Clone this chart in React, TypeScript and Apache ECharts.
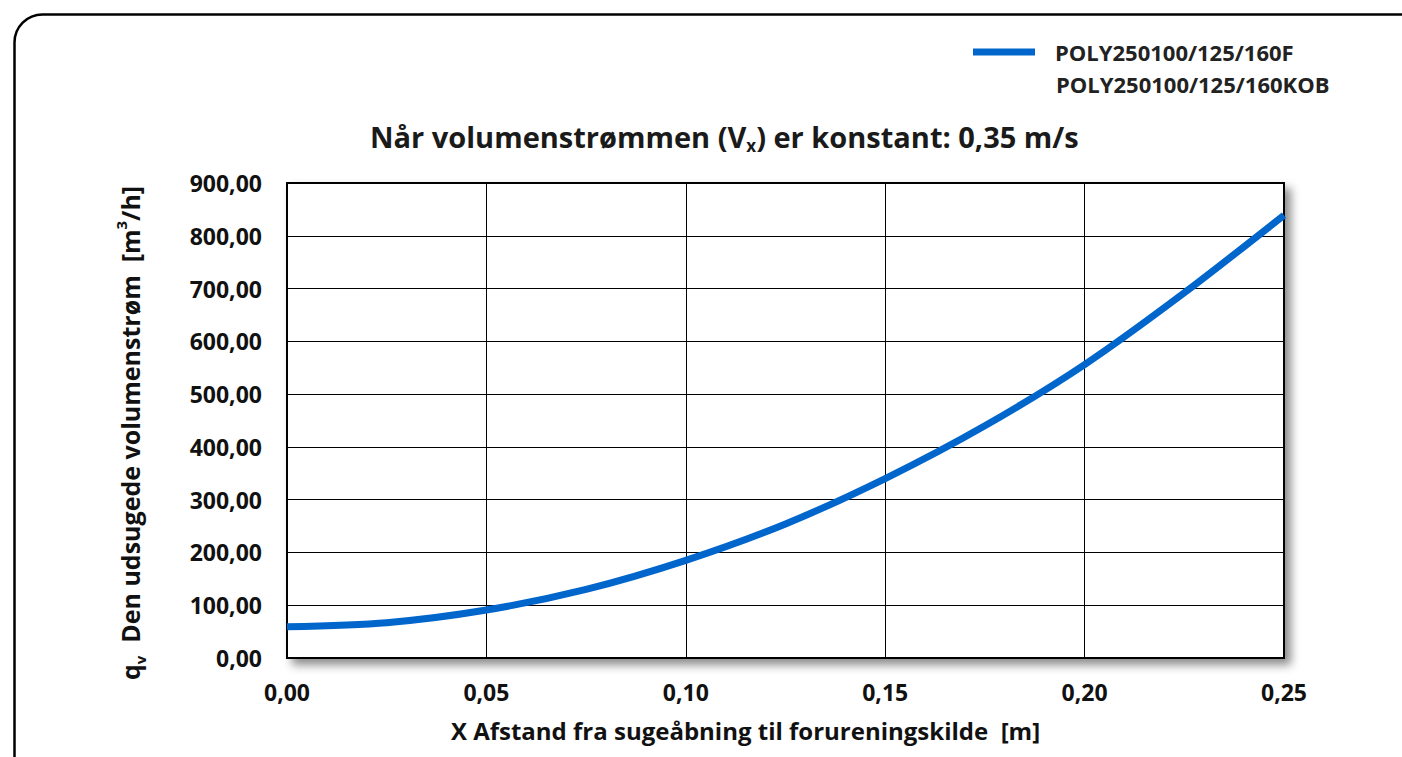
import React, { useEffect, useRef } from "react";
import * as echarts from "echarts";

const xValues = [0, 0.025, 0.05, 0.075, 0.1, 0.125, 0.15, 0.175, 0.2, 0.225, 0.25];
const qValues = [59, 67, 91, 130, 185, 254, 340, 440, 556, 692, 839];
const seriesName1 = "POLY250100/125/160F";
const seriesName2 = "POLY250100/125/160KOB";
const xTicks = { min: 0, max: 0.25, interval: 0.05 };
const yTicks = { min: 0, max: 900, interval: 100 };

const FONT = "Open Sans";
const fmt = (v: number) => v.toFixed(2).replace(".", ",");

export default function App() {
  const ref = useRef<HTMLDivElement>(null);
  useEffect(() => {
    if (!ref.current) return;
    const chart = echarts.init(ref.current, null, { renderer: "svg" });
    chart.setOption({
      animation: false,
      textStyle: { fontFamily: FONT },
      title: {
        left: 365,
        top: 113,
        text: "{a|Når volumenstrømmen (V}{sub|x}{a|) er konstant: 0,35 m/s}",
        textStyle: {
          rich: {
            a: { fontFamily: FONT, fontWeight: "bold", fontSize: 29, color: "#1a1a1a", lineHeight: 36 },
            sub: { fontFamily: FONT, fontWeight: "bold", fontSize: 17, color: "#1a1a1a", verticalAlign: "bottom", lineHeight: 22 },
          },
        },
      },
      legend: {
        left: 968,
        top: 36,
        icon: "rect",
        itemWidth: 62,
        itemHeight: 7,
        data: [seriesName1],
        textStyle: { fontFamily: FONT, fontWeight: "bold", fontSize: 22, color: "#222", padding: [0, 0, 0, 15] },
      },
      graphic: [
        {
          type: "rect",
          left: 12,
          top: 12,
          shape: { width: 1420, height: 780, r: 28 },
          style: { fill: "none", stroke: "#000", lineWidth: 2.5 },
          z: -10,
        },
        {
          type: "text",
          left: 1056,
          top: 73,
          style: { text: seriesName2, fontFamily: FONT, fontWeight: "bold", fontSize: 22, fill: "#222" },
        },
      ],
      grid: {
        left: 287,
        right: 118,
        top: 183,
        bottom: 99,
        show: true,
        backgroundColor: "#fff",
        borderColor: "#000",
        borderWidth: 2,
        shadowBlur: 10,
        shadowOffsetX: 6,
        shadowOffsetY: 6,
        shadowColor: "rgba(0,0,0,0.45)",
      },
      xAxis: {
        type: "value",
        min: xTicks.min,
        max: xTicks.max,
        interval: xTicks.interval,
        axisLine: { show: false },
        axisTick: { show: false },
        splitLine: { show: true, lineStyle: { color: "#000", width: 1 } },
        axisLabel: { formatter: fmt, margin: 22, fontFamily: FONT, fontWeight: "bold", fontSize: 23, color: "#111" },
        name: "X Afstand fra sugeåbning til forureningskilde  [m]",
        nameLocation: "middle",
        nameGap: 60,
        nameTextStyle: { fontFamily: FONT, fontWeight: "bold", fontSize: 24, color: "#111", padding: [0, 80, 0, 0] },
      },
      yAxis: {
        type: "value",
        min: yTicks.min,
        max: yTicks.max,
        interval: yTicks.interval,
        axisLine: { show: false },
        axisTick: { show: false },
        splitLine: { show: true, lineStyle: { color: "#000", width: 1 } },
        axisLabel: { formatter: fmt, margin: 25, fontFamily: FONT, fontWeight: "bold", fontSize: 23, color: "#111" },
        name: "{a|q}{sub|v}{a|  Den udsugede volumenstrøm  [m}{sup|3}{a|/h]}",
        nameLocation: "middle",
        nameRotate: 90,
        nameGap: 140,
        nameTextStyle: {
          padding: [0, 25, 0, 0],
          rich: {
            a: { fontFamily: FONT, fontWeight: "bold", fontSize: 25, color: "#111", lineHeight: 30 },
            sub: { fontFamily: FONT, fontWeight: "bold", fontSize: 15, color: "#111", verticalAlign: "bottom", lineHeight: 22 },
            sup: { fontFamily: FONT, fontWeight: "bold", fontSize: 15, color: "#111", verticalAlign: "top", lineHeight: 34 },
          },
        },
      },
      series: [
        {
          name: seriesName1,
          type: "line",
          smooth: 0.3,
          showSymbol: false,
          data: xValues.map((x, i) => [x, qValues[i]]),
          lineStyle: { color: "#0066CC", width: 7 },
          itemStyle: { color: "#0066CC" },
        },
      ],
    });
    return () => chart.dispose();
  }, []);
  return <div ref={ref} style={{ position: "absolute", left: 0, top: 0, width: 1402, height: 757 }} />;
}
